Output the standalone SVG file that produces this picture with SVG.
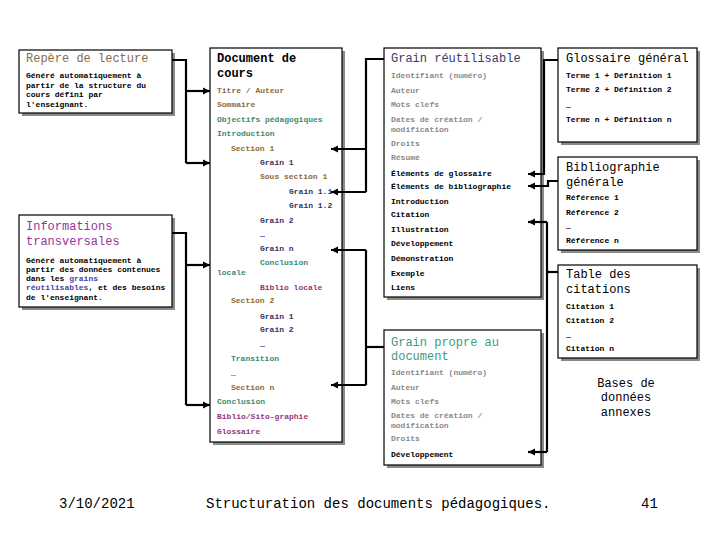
<svg xmlns="http://www.w3.org/2000/svg" width="720" height="540" viewBox="0 0 720 540">
<style>
.box{fill:#fff;stroke:#000;stroke-width:1.2}
.sh{fill:#8a8a8a}
.t{font-family:"Liberation Mono",monospace;font-size:12px}
.b{font-family:"Liberation Mono",monospace;font-size:12px;font-weight:bold}
.s{font-family:"Liberation Mono",monospace;font-size:8px;font-weight:bold}
.f{font-family:"Liberation Mono",monospace;font-size:14px}
.br{fill:#8c6a3c}.te{fill:#3a8a73}.nv{fill:#333366}.mg{fill:#993377}.gr{fill:#8a8a8a}.k{fill:#000}
.c{fill:none;stroke:#000;stroke-width:2.2}
</style>
<defs>
<marker id="ah" markerUnits="userSpaceOnUse" markerWidth="9" markerHeight="9" refX="7" refY="4.5" orient="auto">
<path d="M0,1 L7,4.5 L0,8 Z" fill="#000"/>
</marker>
</defs>
<rect width="720" height="540" fill="#fff"/>

<g id="repere">
<rect class="sh" x="22" y="53" width="153" height="63"/>
<rect class="box" x="19" y="50" width="153" height="63"/>
<text class="t" x="26" y="62" fill="#8b6a45">Repère de lecture</text>
<text class="s k" x="26" y="78">Généré automatiquement à</text>
<text class="s k" x="26" y="87.5">partir de la structure du</text>
<text class="s k" x="26" y="97">cours défini par</text>
<text class="s k" x="26" y="106.5">l'enseignant.</text>
</g>

<g id="informations">
<rect class="sh" x="22" y="218" width="153" height="92"/>
<rect class="box" x="19" y="215" width="153" height="92"/>
<text class="t" x="26" y="230" fill="#993399">Informations</text>
<text class="t" x="26" y="245" fill="#993399">transversales</text>
<text class="s k" x="26" y="262.5">Généré automatiquement à</text>
<text class="s k" x="26" y="272">partir des données contenues</text>
<text class="s k" x="26" y="281">dans les <tspan fill="#4444aa">grains</tspan></text>
<text class="s k" x="26" y="290"><tspan fill="#4444aa">réutilisables</tspan>, et des besoins</text>
<text class="s k" x="26" y="299.5">de l'enseignant.</text>
</g>

<g id="document">
<rect class="sh" x="213" y="51" width="132" height="394"/>
<rect class="box" x="210" y="48" width="132" height="394"/>
<text class="b k" x="217" y="62">Document de</text>
<text class="b k" x="217" y="77">cours</text>
<text class="s br" x="217" y="93">Titre / Auteur</text>
<text class="s br" x="217" y="107">Sommaire</text>
<text class="s te" x="217" y="122">Objectifs pédagogiques</text>
<text class="s te" x="217" y="136">Introduction</text>
<text class="s br" x="231" y="151">Section 1</text>
<text class="s nv" x="260" y="165">Grain 1</text>
<text class="s br" x="260" y="179">Sous section 1</text>
<text class="s nv" x="289" y="194">Grain 1.1</text>
<text class="s nv" x="289" y="208">Grain 1.2</text>
<text class="s nv" x="260" y="223">Grain 2</text>
<text class="s nv" x="260" y="237">…</text>
<text class="s nv" x="260" y="251">Grain n</text>
<text class="s te" x="260" y="265">Conclusion</text>
<text class="s te" x="217" y="275">locale</text>
<text class="s mg" x="260" y="290">Biblio locale</text>
<text class="s br" x="231" y="303">Section 2</text>
<text class="s nv" x="260" y="319">Grain 1</text>
<text class="s nv" x="260" y="332">Grain 2</text>
<text class="s nv" x="260" y="347">…</text>
<text class="s te" x="231" y="361">Transition</text>
<text class="s te" x="231" y="376">…</text>
<text class="s br" x="231" y="390">Section n</text>
<text class="s te" x="217" y="404">Conclusion</text>
<text class="s mg" x="217" y="419">Biblio/Sito-graphie</text>
<text class="s mg" x="217" y="434">Glossaire</text>
</g>

<g id="grain-reutilisable">
<rect class="sh" x="387" y="51" width="157" height="249"/>
<rect class="box" x="384" y="48" width="157" height="249"/>
<text class="t" x="391" y="62" fill="#3a3a6a">Grain réutilisable</text>
<text class="s gr" x="391" y="78">Identifiant (numéro)</text>
<text class="s gr" x="391" y="93">Auteur</text>
<text class="s gr" x="391" y="107">Mots clefs</text>
<text class="s gr" x="391" y="122">Dates de création /</text>
<text class="s gr" x="391" y="132">modification</text>
<text class="s gr" x="391" y="146">Droits</text>
<text class="s gr" x="391" y="160">Résumé</text>
<text class="s k" x="391" y="176">Éléments de glossaire</text>
<text class="s k" x="391" y="189">Éléments de bibliographie</text>
<text class="s k" x="391" y="204">Introduction</text>
<text class="s k" x="391" y="217">Citation</text>
<text class="s k" x="391" y="232">Illustration</text>
<text class="s k" x="391" y="246">Développement</text>
<text class="s k" x="391" y="261">Démonstration</text>
<text class="s k" x="391" y="276">Exemple</text>
<text class="s k" x="391" y="290">Liens</text>
</g>

<g id="grain-propre">
<rect class="sh" x="387" y="333" width="157" height="135"/>
<rect class="box" x="384" y="330" width="157" height="135"/>
<text class="t" x="391" y="346" fill="#3c9c80">Grain propre au</text>
<text class="t" x="391" y="360" fill="#3c9c80">document</text>
<text class="s gr" x="391" y="375">Identifiant (numéro)</text>
<text class="s gr" x="391" y="390">Auteur</text>
<text class="s gr" x="391" y="404">Mots clefs</text>
<text class="s gr" x="391" y="418">Dates de création /</text>
<text class="s gr" x="391" y="428">modification</text>
<text class="s gr" x="391" y="441">Droits</text>
<text class="s k" x="391" y="457">Développement</text>
</g>

<g id="glossaire">
<rect class="sh" x="561" y="51" width="139" height="94"/>
<rect class="box" x="558" y="48" width="139" height="94"/>
<text class="t k" x="566" y="62">Glossaire général</text>
<text class="s k" x="566" y="78">Terme 1 + Définition 1</text>
<text class="s k" x="566" y="92">Terme 2 + Définition 2</text>
<text class="s k" x="566" y="108">…</text>
<text class="s k" x="566" y="122">Terme n + Définition n</text>
</g>

<g id="bibliographie">
<rect class="sh" x="561" y="160" width="139" height="93"/>
<rect class="box" x="558" y="157" width="139" height="93"/>
<text class="t k" x="566" y="171">Bibliographie</text>
<text class="t k" x="566" y="186">générale</text>
<text class="s k" x="566" y="200">Référence 1</text>
<text class="s k" x="566" y="215">Référence 2</text>
<text class="s k" x="566" y="229">…</text>
<text class="s k" x="566" y="243">Référence n</text>
</g>

<g id="citations">
<rect class="sh" x="561" y="268" width="139" height="93"/>
<rect class="box" x="558" y="265" width="139" height="93"/>
<text class="t k" x="566" y="278">Table des</text>
<text class="t k" x="566" y="293">citations</text>
<text class="s k" x="566" y="309">Citation 1</text>
<text class="s k" x="566" y="323">Citation 2</text>
<text class="s k" x="566" y="338">…</text>
<text class="s k" x="566" y="351">Citation n</text>
</g>

<g id="bases">
<text class="t k" x="626" y="387" text-anchor="middle">Bases de</text>
<text class="t k" x="626" y="401" text-anchor="middle">données</text>
<text class="t k" x="626" y="416" text-anchor="middle">annexes</text>
</g>

<g id="connectors">
<path class="c" d="M172,60 H186 V163"/>
<path class="c" d="M186,91 H210" marker-end="url(#ah)"/>
<path class="c" d="M186,163 H210" marker-end="url(#ah)"/>
<path class="c" d="M172,233 H186 V405"/>
<path class="c" d="M186,265 H210" marker-end="url(#ah)"/>
<path class="c" d="M186,405 H210" marker-end="url(#ah)"/>
<path class="c" d="M384,59 H366 V192"/>
<path class="c" d="M366,149 H331" marker-end="url(#ah)"/>
<path class="c" d="M366,192 H331" marker-end="url(#ah)"/>
<path class="c" d="M384,347 H366"/>
<path class="c" d="M366,250 V385"/>
<path class="c" d="M366,250 H331" marker-end="url(#ah)"/>
<path class="c" d="M366,385 H331" marker-end="url(#ah)"/>
<path class="c" d="M558,60 H544 V174 H528" marker-end="url(#ah)"/>
<path class="c" d="M558,181 H548 V186 H528" marker-end="url(#ah)"/>
<path class="c" d="M558,272 H547"/>
<path class="c" d="M547,222 V452"/>
<path class="c" d="M547,222 H528" marker-end="url(#ah)"/>
<path class="c" d="M547,452 H528" marker-end="url(#ah)"/>
</g>

<g id="footer">
<text class="f k" x="59" y="508">3/10/2021</text>
<text class="f k" x="206" y="508">Structuration des documents pédagogiques.</text>
<text class="f k" x="641" y="508">41</text>
</g>
</svg>
